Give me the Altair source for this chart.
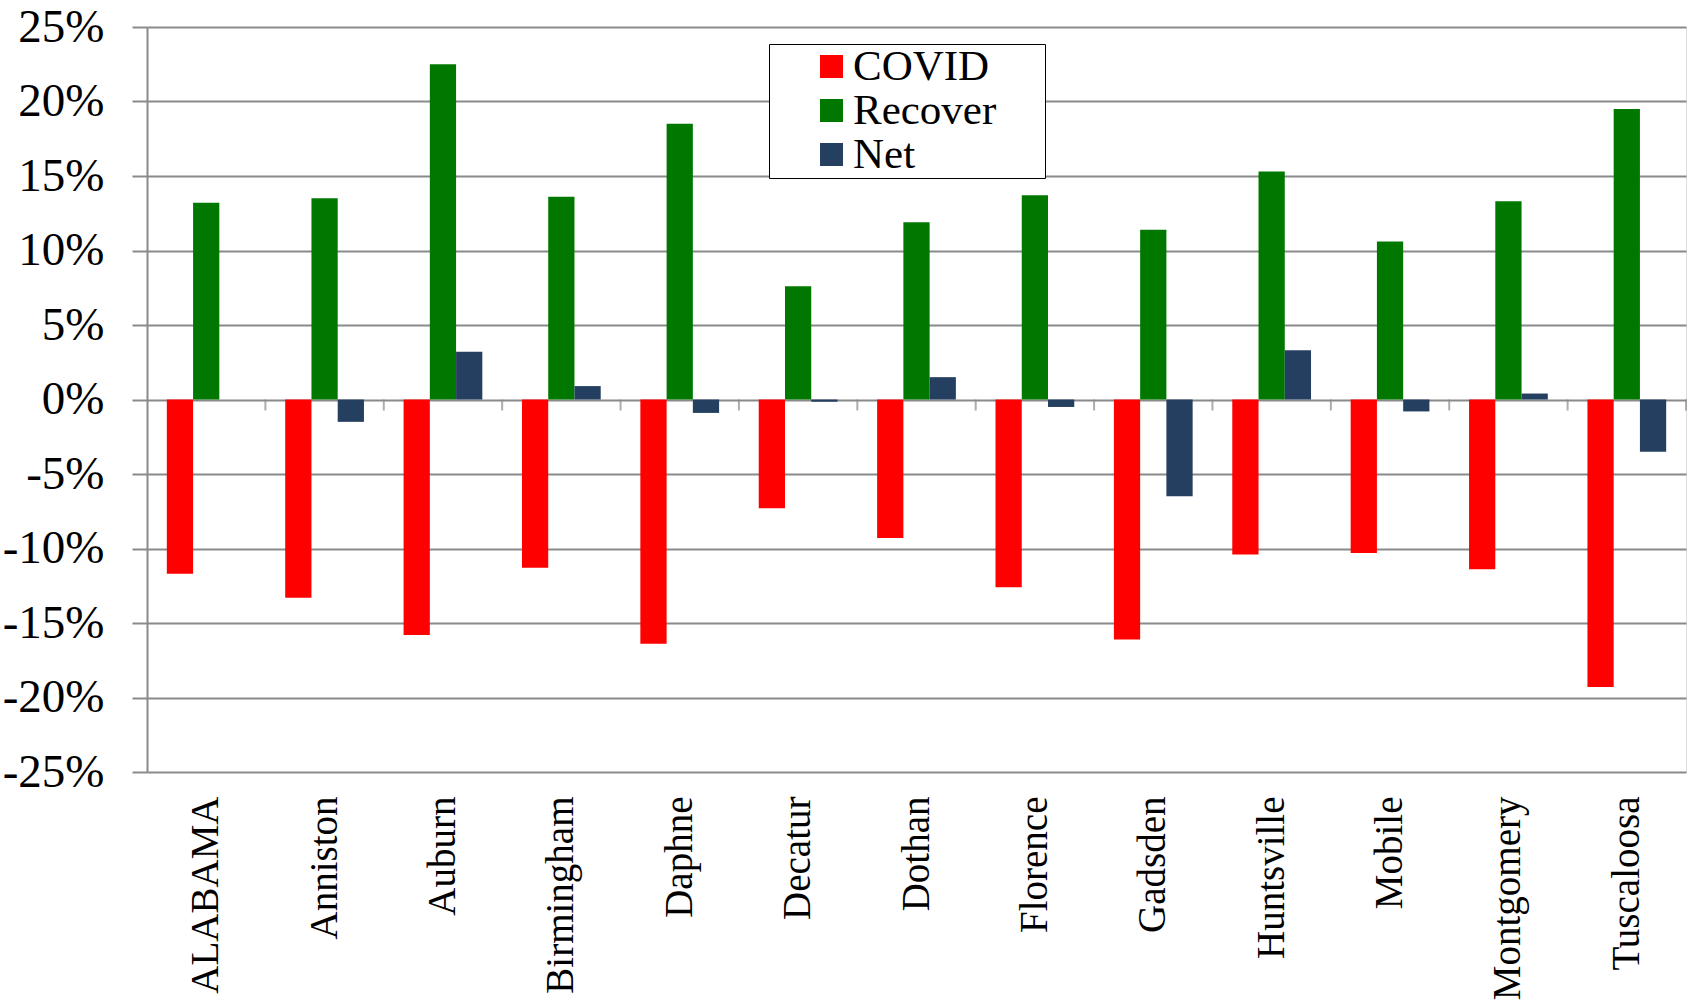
import altair as alt
import pandas as pd

# Metro areas, in display order
cities = ["ALABAMA", "Anniston", "Auburn", "Birmingham", "Daphne", "Decatur",
          "Dothan", "Florence", "Gadsden", "Huntsville", "Mobile",
          "Montgomery", "Tuscaloosa"]
series = ["COVID", "Recover", "Net"]

# Percent change per metro area
covid = [-11.7, -13.3, -15.8, -11.3, -16.4, -7.3, -9.3, -12.6, -16.1, -10.4, -10.3, -11.4, -19.3]
recover = [13.2, 13.5, 22.5, 13.6, 18.5, 7.6, 11.9, 13.7, 11.4, 15.3, 10.6, 13.3, 19.5]
net = [0.0, -1.5, 3.2, 0.9, -0.9, -0.15, 1.5, -0.5, -6.5, 3.3, -0.8, 0.4, -3.5]

colors = ["#ff0000", "#007800", "#243f60"]
y_ticks = [-25, -20, -15, -10, -5, 0, 5, 10, 15, 20, 25]

rows = []
for name, vals in zip(series, [covid, recover, net]):
    for c, v in zip(cities, vals):
        rows.append({"city": c, "series": name, "value": v})
df = pd.DataFrame(rows)
ticks_df = pd.DataFrame({"city": cities})

GRID = "#8a8a8a"
SERIF = "Liberation Serif"

x_enc = alt.X(
    "city:N", sort=cities, title=None,
    scale=alt.Scale(paddingInner=0, paddingOuter=0),
    axis=alt.Axis(labelAngle=-90, labelFont=SERIF, labelFontSize=39,
                  labelColor="black", labelPadding=24, domain=False,
                  ticks=False, grid=False, labelAlign="right",
                  labelBaseline="middle", labelLimit=0),
)

bars = alt.Chart(df).mark_bar().encode(
    x=x_enc,
    xOffset=alt.XOffset("series:N", sort=series,
                        scale=alt.Scale(paddingInner=0, paddingOuter=0.755)),
    y=alt.Y("value:Q", title=None,
            scale=alt.Scale(domain=[-25, 25], nice=False, zero=False),
            axis=alt.Axis(values=y_ticks, labelExpr="datum.value + '%'",
                          labelFont=SERIF, labelFontSize=47, labelColor="black",
                          labelPadding=28, tickSize=15, tickColor=GRID,
                          tickWidth=2, domainColor=GRID, domainWidth=2,
                          gridColor=GRID, gridWidth=2, grid=True)),
    color=alt.Color(
        "series:N", sort=series,
        scale=alt.Scale(domain=series, range=colors),
        legend=alt.Legend(
            orient="none", legendX=622, legendY=17,
            # blank title on the right only widens the framed box
            title="\u00a0", titleOrient="right", titlePadding=48,
            titleFontSize=1,
            symbolType="square", symbolSize=529, symbolStrokeWidth=0,
            symbolOffset=40, labelOffset=0, labelLimit=0,
            labelFont=SERIF, labelFontSize=43, labelColor="black",
            rowPadding=0, padding=1, strokeColor="black",
            fillColor="white",
        ),
    ),
)

# Small category separators hanging below the zero line
zero_ticks = alt.Chart(ticks_df).mark_tick(
    orient="vertical", size=11, thickness=2, color=GRID, yOffset=5.5
).encode(
    x=alt.X("city:N", sort=cities, bandPosition=1),
    y=alt.datum(0),
)

chart = alt.layer(bars, zero_ticks).properties(
    width=1539, height=745,
    autosize=alt.AutoSizeParams(type="none"),
    padding={"left": 147, "top": 27, "right": 5, "bottom": 229},
).configure_view(stroke=None).configure_legend(strokeWidth=2).configure(background="white")

chart.save("out.html", embed_options={"renderer": "svg", "actions": False})
